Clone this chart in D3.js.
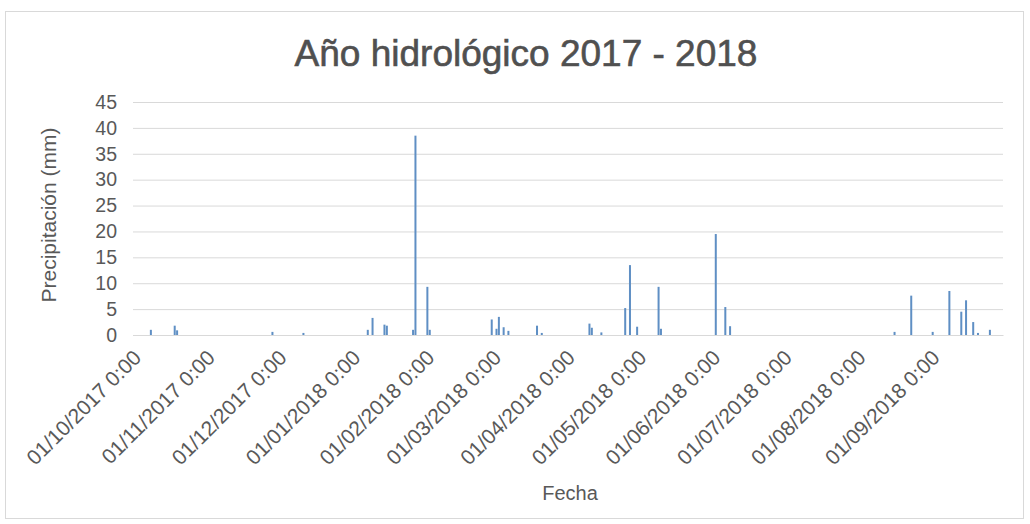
<!DOCTYPE html>
<html>
<head>
<meta charset="utf-8">
<script src="https://cdn.jsdelivr.net/npm/d3@7"></script>
<style>
  html, body { margin: 0; padding: 0; background: #fff; }
  svg { display: block; font-family: "Liberation Sans", Arial, sans-serif; }
</style>
</head>
<body>
<svg id="chart" width="1030" height="524"></svg>
<script>
// Daily rainfall, hydrological year 2017-2018 (days without rain omitted)
const fechas = [
  "2017-10-08", "2017-10-18", "2017-10-19", "2017-11-28", "2017-12-11",
  "2018-01-07", "2018-01-09", "2018-01-14", "2018-01-15", "2018-01-26",
  "2018-01-27", "2018-02-01", "2018-02-02", "2018-02-28", "2018-03-02",
  "2018-03-03", "2018-03-05", "2018-03-07", "2018-03-19", "2018-03-21",
  "2018-04-10", "2018-04-11", "2018-04-15", "2018-04-25", "2018-04-27",
  "2018-04-30", "2018-05-09", "2018-05-10", "2018-06-02", "2018-06-06",
  "2018-06-08", "2018-08-16", "2018-08-23", "2018-09-01", "2018-09-08",
  "2018-09-13", "2018-09-15", "2018-09-18", "2018-09-20", "2018-09-25"
];
const precipitacion = [
  1.0, 1.8, 0.9, 0.6, 0.4,
  1.0, 3.3, 2.0, 1.8, 1.0,
  38.5, 9.3, 1.0, 3.0, 1.2,
  3.5, 1.5, 0.8, 1.8, 0.4,
  2.2, 1.4, 0.5, 5.2, 13.5,
  1.6, 9.3, 1.2, 19.5, 5.4,
  1.7, 0.6, 7.6, 0.6, 8.5,
  4.5, 6.7, 2.5, 0.4, 1.0
];
const yTicks = [0, 5, 10, 15, 20, 25, 30, 35, 40, 45];
const periodo = ["2017-10-01", "2018-10-01"];

const titulo = "Año hidrológico 2017 - 2018";
const tituloY = "Precipitación (mm)";
const tituloX = "Fecha";

const parse = d3.timeParse("%Y-%m-%d");
const data = fechas.map((f, i) => ({ fecha: parse(f), valor: precipitacion[i] }));

const svg = d3.select("#chart");
const plot = { left: 133, right: 1003, top: 102, bottom: 335 };
const textColor = "#595959";
const gridColor = "#d9d9d9";

// chart frame
svg.append("rect")
  .attr("x", 5.5).attr("y", 11.5)
  .attr("width", 1018).attr("height", 507)
  .attr("fill", "#fff").attr("stroke", gridColor);

const x = d3.scaleTime()
  .domain(periodo.map(parse))
  .range([plot.left, plot.right]);

const y = d3.scaleLinear()
  .domain([0, 45])
  .range([plot.bottom, plot.top]);

// horizontal gridlines + value labels
const yAxis = svg.append("g")
  .attr("transform", `translate(${plot.left},0)`)
  .call(d3.axisLeft(y).tickValues(yTicks).tickSize(-(plot.right - plot.left)).tickPadding(16));
yAxis.select(".domain").remove();
yAxis.selectAll(".tick line").attr("stroke", gridColor).attr("stroke-width", 1);
yAxis.selectAll(".tick text")
  .attr("fill", textColor).attr("font-size", 19.5)
  .attr("font-family", "Liberation Sans, Arial, sans-serif");

// bars
const dayWidth = x(d3.timeDay.offset(parse(periodo[0]), 1)) - x(parse(periodo[0]));
const barW = 2;
svg.append("g").selectAll("rect")
  .data(data)
  .join("rect")
  .attr("x", d => x(d.fecha) + dayWidth / 2 - barW / 2)
  .attr("y", d => y(d.valor))
  .attr("width", barW)
  .attr("height", d => y(0) - y(d.valor))
  .attr("fill", "#5f8fc4");

// category axis
const fmt = d3.timeFormat("%d/%m/%Y %-H:%M");
const months = d3.timeMonth.range(parse(periodo[0]), parse(periodo[1]));
const xAxis = svg.append("g")
  .attr("transform", `translate(0,${plot.bottom})`)
  .call(d3.axisBottom(x).tickValues(months).tickFormat(fmt).tickSize(0));
xAxis.select(".domain").attr("stroke", gridColor);
xAxis.selectAll(".tick text")
  .attr("fill", textColor).attr("font-size", 21)
  .attr("font-family", "Liberation Sans, Arial, sans-serif")
  .attr("text-anchor", "end")
  .attr("dy", null)
  .attr("y", 0)
  .attr("transform", "translate(9,24) rotate(-45)");

// titles
svg.append("text")
  .attr("x", 526).attr("y", 66)
  .attr("text-anchor", "middle")
  .attr("font-size", 37)
  .attr("fill", "#505050")
  .attr("stroke", "#505050")
  .attr("stroke-width", 0.6)
  .text(titulo);

svg.append("text")
  .attr("transform", "translate(56,215) rotate(-90)")
  .attr("text-anchor", "middle")
  .attr("font-size", 21)
  .attr("fill", textColor)
  .text(tituloY);

svg.append("text")
  .attr("x", 570).attr("y", 500)
  .attr("text-anchor", "middle")
  .attr("font-size", 20)
  .attr("fill", textColor)
  .text(tituloX);
</script>
</body>
</html>
